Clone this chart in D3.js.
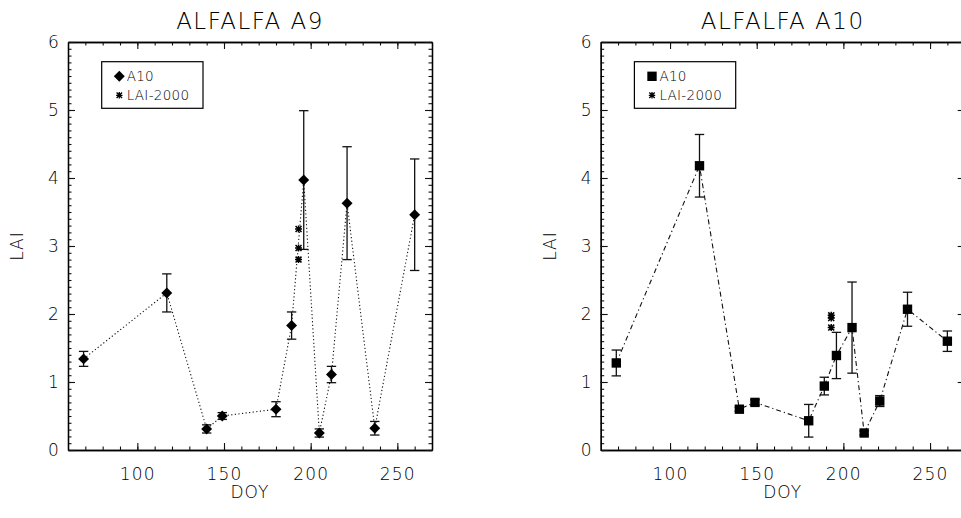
<!DOCTYPE html>
<html><head><meta charset="utf-8">
<script src="https://cdn.jsdelivr.net/npm/d3@7"></script>
<style>
body{margin:0;background:#fff;}
svg{display:block;}
text{font-family:"DejaVu Sans",sans-serif;font-weight:200;fill:#000;}
</style></head>
<body><svg id="c" width="961" height="518"></svg>
<script>
// ---- data ----
const doyA9  = [69,117,140,149,180,189,196,205,212,221,237,260];
const laiA9  = [1.34,2.31,0.31,0.50,0.60,1.83,3.97,0.25,1.11,3.63,0.32,3.46];
const errA9  = [0.11,0.28,0.06,0.05,0.11,0.20,1.02,0.06,0.12,0.83,0.10,0.82];
const starDoyA9 = [193,193,193];
const starLaiA9 = [3.25,2.97,2.80];

const doyA10 = [69,117,140,149,180,189,196,205,212,221,237,260];
const laiA10 = [1.28,4.18,0.60,0.70,0.43,0.94,1.39,1.80,0.25,0.72,2.07,1.60];
const errA10 = [0.19,0.46,0.03,0.04,0.24,0.13,0.34,0.67,0.03,0.08,0.25,0.15];
const starDoyA10 = [193,193,193];
const starLaiA10 = [1.98,1.94,1.80];

const titles = ["ALFALFA A9","ALFALFA A10"];
const legendLabels = ["A10","LAI-2000"];
const xTickLabels = [100,150,200,250];
const yTickLabels = [0,1,2,3,4,5,6];
const xDomain = [60,270];
const yDomain = [0,6];

// ---- drawing ----
const svg = d3.select("#c");
const W = 364, H = 408, TOP = 42;
const panels = [
  {left:68, title:titles[0], doy:doyA9, lai:laiA9, err:errA9, sd:starDoyA9, sl:starLaiA9, marker:"diamond", dash:"1.2,2.4"},
  {left:600.7, title:titles[1], doy:doyA10, lai:laiA10, err:errA10, sd:starDoyA10, sl:starLaiA10, marker:"square", dash:"5,3,1.2,3"}
];

function starPath(r){
  const d = r*0.85;
  return `M0,${-r}L0,${r}M${-r},0L${r},0M${-d},${-d}L${d},${d}M${-d},${d}L${d},${-d}`;
}
const diamondSym = d3.symbol().type(d3.symbolSquare).size(60);
const squareSym = d3.symbol().type(d3.symbolSquare).size(88);
function markerPath(m){ return m==="diamond" ? diamondSym() : squareSym(); }
function markerTransform(m,x,y){ return m==="diamond" ? `translate(${x},${y}) rotate(45)` : `translate(${x},${y})`; }

panels.forEach(p=>{
  const g = svg.append("g").attr("transform",`translate(${p.left},${TOP})`);
  const x = d3.scaleLinear().domain(xDomain).range([0,W]);
  const y = d3.scaleLinear().domain(yDomain).range([H,0]);

  const minorX = d3.range(70,270,10);
  const minorY = d3.range(0,6.001,0.1).map(v=>+v.toFixed(1));

  function styleAxis(sel){
    sel.selectAll(".domain").attr("stroke","#000").attr("stroke-width",1.3);
    sel.selectAll(".tick line").attr("stroke","#111").attr("stroke-width",1.1);
    sel.selectAll("text").attr("font-size",17).attr("fill","#000")
       .attr("font-family","DejaVu Sans, sans-serif").attr("font-weight",200).attr("letter-spacing",1.2);
  }
  // minor ticks
  g.append("g").attr("transform",`translate(0,${H})`).call(d3.axisBottom(x).tickValues(minorX).tickSize(-3.5).tickSizeOuter(0).tickFormat("")).call(styleAxis);
  g.append("g").call(d3.axisTop(x).tickValues(minorX).tickSize(-3.5).tickSizeOuter(0).tickFormat("")).call(styleAxis);
  g.append("g").call(d3.axisLeft(y).tickValues(minorY).tickSize(-3.5).tickSizeOuter(0).tickFormat("")).call(styleAxis);
  g.append("g").attr("transform",`translate(${W},0)`).call(d3.axisRight(y).tickValues(minorY).tickSize(-3.5).tickSizeOuter(0).tickFormat("")).call(styleAxis);
  // major ticks
  g.append("g").attr("transform",`translate(0,${H})`).call(d3.axisBottom(x).tickValues(xTickLabels).tickSize(-7).tickSizeOuter(0).tickPadding(18).tickFormat(d3.format("d"))).call(styleAxis);
  g.append("g").call(d3.axisTop(x).tickValues(xTickLabels).tickSize(-7).tickSizeOuter(0).tickFormat("")).call(styleAxis);
  g.append("g").call(d3.axisLeft(y).tickValues(yTickLabels).tickSize(-7).tickSizeOuter(0).tickPadding(8).tickFormat(d3.format("d"))).call(styleAxis);
  g.append("g").attr("transform",`translate(${W},0)`).call(d3.axisRight(y).tickValues(yTickLabels).tickSize(-7).tickSizeOuter(0).tickFormat("")).call(styleAxis);

  // title & axis labels
  g.append("text").attr("x",W/2).attr("y",-13).attr("text-anchor","middle").attr("font-size",23).attr("letter-spacing",1.5).text(p.title);
  g.append("text").attr("x",W/2).attr("y",H+48).attr("text-anchor","middle").attr("font-size",17).attr("letter-spacing",1).text("DOY");
  g.append("text").attr("transform",`translate(-45,${y(3)}) rotate(-90)`).attr("text-anchor","middle").attr("font-size",17).attr("letter-spacing",1).text("LAI");

  const pts = p.doy.map((d,i)=>({d, v:p.lai[i], e:p.err[i]}));
  // connecting line
  g.append("path").datum(pts)
    .attr("d", d3.line().x(o=>x(o.d)).y(o=>y(o.v)))
    .attr("fill","none").attr("stroke","#111").attr("stroke-width",1.1).attr("stroke-dasharray",p.dash);
  // error bars
  const eb = g.append("g").attr("stroke","#111").attr("stroke-width",1.3).attr("fill","none");
  pts.forEach(o=>{
    const cx = x(o.d), y1 = y(o.v+o.e), y2 = y(o.v-o.e);
    eb.append("line").attr("x1",cx).attr("x2",cx).attr("y1",y1).attr("y2",y2);
    eb.append("line").attr("x1",cx-4.7).attr("x2",cx+4.7).attr("y1",y1).attr("y2",y1);
    eb.append("line").attr("x1",cx-4.7).attr("x2",cx+4.7).attr("y1",y2).attr("y2",y2);
  });
  // markers
  g.selectAll("path.mk").data(pts).join("path").attr("class","mk")
    .attr("d",markerPath(p.marker))
    .attr("transform",o=>markerTransform(p.marker,x(o.d),y(o.v)))
    .attr("fill","#000");
  // stars
  g.selectAll("path.st").data(p.sd.map((d,i)=>({d,v:p.sl[i]}))).join("path").attr("class","st")
    .attr("d",starPath(3.5)).attr("transform",o=>`translate(${x(o.d)},${y(o.v)})`)
    .attr("stroke","#000").attr("stroke-width",1.5).attr("fill","none");

  // legend
  const lg = g.append("g").attr("transform","translate(33.7,19.7)");
  lg.append("rect").attr("width",101.3).attr("height",46.6).attr("fill","#fff").attr("stroke","#000").attr("stroke-width",1.2);
  lg.append("path").attr("d",markerPath(p.marker)).attr("transform",markerTransform(p.marker,17.6,14.6)).attr("fill","#000");
  lg.append("path").attr("d",starPath(3.2)).attr("transform","translate(17.6,33.6)").attr("stroke","#000").attr("stroke-width",1.3).attr("fill","none");
  lg.append("text").attr("x",25).attr("y",19.5).attr("font-size",13.5).attr("letter-spacing",0.3).text(legendLabels[0]);
  lg.append("text").attr("x",25).attr("y",38.5).attr("font-size",13.5).attr("letter-spacing",0.3).text(legendLabels[1]);
});
</script></body></html>
